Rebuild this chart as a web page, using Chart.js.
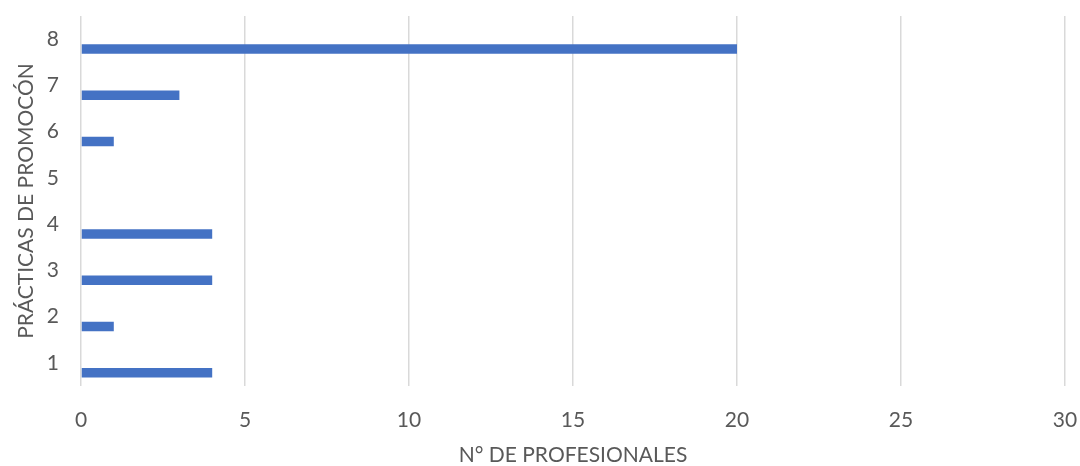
<!DOCTYPE html>
<html>
<head>
<meta charset="utf-8">
<script src="https://cdn.jsdelivr.net/npm/chart.js@4.4.1/dist/chart.umd.min.js"></script>
<style>
  html, body { margin: 0; padding: 0; background: #ffffff; }
  #wrap { width: 1080px; height: 466px; }
</style>
</head>
<body>
<div id="wrap"><canvas id="promoChart" width="1080" height="466"></canvas></div>
<script>
// data
const practicas = ['1', '2', '3', '4', '5', '6', '7', '8'];
const profesionales = [4, 1, 4, 4, 0, 1, 3, 20];
const serieVacia = [null, null, null, null, null, null, null, null]; // empty series, pushes bars below the label
const xTicks = [0, 5, 10, 15, 20, 25, 30];

const textColor = '#595959';
const fontFam = 'Lato, "Open Sans", sans-serif';

const ctx = document.getElementById('promoChart').getContext('2d');
const promoChart = new Chart(ctx, {
    type: 'bar',
    data: {
        labels: practicas,
        datasets: [{
            label: 'vacia',
            data: serieVacia,
            backgroundColor: '#ED7D31'
        }, {
            label: 'N° de profesionales',
            data: profesionales,
            backgroundColor: '#4472C4',
            borderWidth: 0
        }]
    },
    options: {
        indexAxis: 'y',
        responsive: false,
        animation: false,
        layout: { padding: { top: 16, right: 15, left: 0, bottom: 0 } },
        plugins: {
            legend: { display: false },
            tooltip: { enabled: false }
        },
        datasets: {
            bar: { categoryPercentage: 0.864, barPercentage: 0.475 }
        },
        scales: {
            x: {
                min: 0,
                max: 30,
                afterBuildTicks: function (scale) {
                    scale.ticks = xTicks.map(v => ({ value: v }));
                },
                afterFit: function (scale) {
                    scale.height = 80;
                    scale.paddingLeft = 0;
                    scale.paddingRight = 0;
                },
                grid: { color: '#d9d9d9', lineWidth: 1.5, drawTicks: false },
                border: { display: false },
                ticks: {
                    color: textColor,
                    padding: 22,
                    font: { family: fontFam, size: 21 }
                },
                title: {
                    display: true,
                    text: 'N° DE PROFESIONALES',
                    color: textColor,
                    padding: 0,
                    font: { family: fontFam, size: 21, lineHeight: 1 }
                }
            },
            y: {
                reverse: true,
                afterFit: function (scale) {
                    scale.width = 81;
                    scale.paddingTop = 0;
                    scale.paddingBottom = 0;
                },
                grid: { display: false, drawTicks: false },
                border: { display: false },
                ticks: {
                    color: textColor,
                    padding: 22,
                    font: { family: fontFam, size: 21 }
                },
                title: {
                    display: true,
                    text: 'PRÁCTICAS DE PROMOCÓN',
                    color: textColor,
                    padding: { top: 16, bottom: 0 },
                    font: { family: fontFam, size: 21, lineHeight: 1 }
                }
            }
        }
    }
});
</script>
</body>
</html>
